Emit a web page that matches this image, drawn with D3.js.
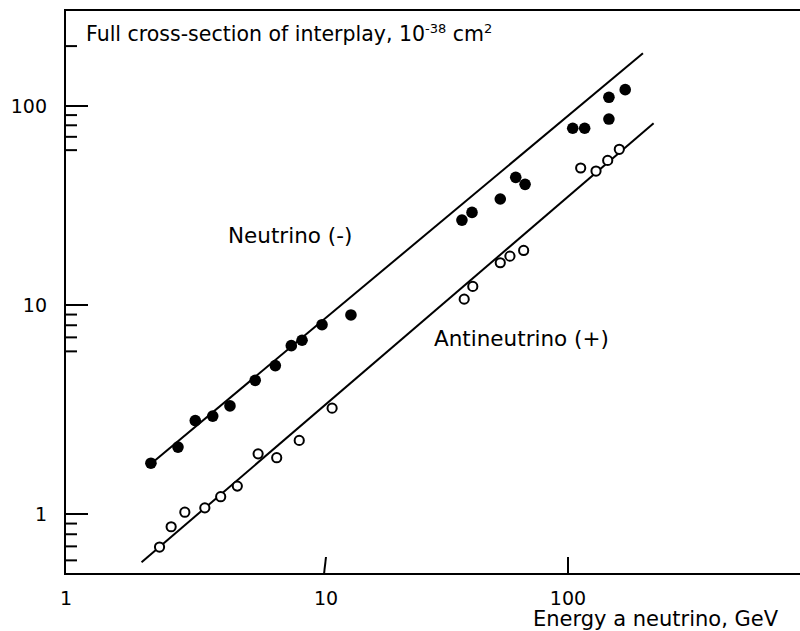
<!DOCTYPE html>
<html>
<head>
<meta charset="utf-8">
<script src="https://cdn.jsdelivr.net/npm/d3@7"></script>
<style>
  html, body { margin: 0; padding: 0; background: #fff; }
  svg { display: block; }
  text { font-family: "DejaVu Sans", Verdana, sans-serif; fill: #000; }
</style>
</head>
<body>
<svg id="chart" width="800" height="631"></svg>
<script>
// ---- data ----
const neutrinoE     = [2.14, 2.72, 3.17, 3.70, 4.31, 5.39, 6.44, 7.42, 8.16, 9.74, 12.8, 36.8, 40.5, 53.0, 61.4, 67.1, 105.6, 118.3, 149, 149, 174];
const neutrinoSigma = [1.75, 2.09, 2.80, 2.94, 3.29, 4.36, 5.13, 6.39, 6.78, 8.05, 8.96, 26.7, 29.2, 34.1, 43.8, 40.4, 77.3, 77.3, 86.0, 110.6, 120.8];

const antiE     = [2.31, 2.56, 2.89, 3.45, 3.97, 4.60, 5.53, 6.52, 7.96, 10.7, 37.6, 40.8, 53.0, 58.1, 66.2, 113.9, 131.8, 147.3, 164.5];
const antiSigma = [0.695, 0.869, 1.02, 1.07, 1.21, 1.36, 1.94, 1.86, 2.25, 3.21, 10.7, 12.4, 16.3, 17.6, 18.8, 48.8, 47.1, 53.3, 60.6];

const neutrinoFitE = [2.07, 206];
const neutrinoFitSigma = [1.68, 184];
const antiFitE = [1.97, 228];
const antiFitSigma = [0.587, 81.9];

const xTickValues = [10, 100];
const xTickLabels = ["1", "10", "100"];
const xLabelValues = [1, 10, 100];
const yMajorValues = [1, 10, 100];
const yMajorLabels = ["1", "10", "100"];
const yMinorValues = [0.6, 0.7, 0.8, 0.9, 6, 7, 8, 9, 60, 70, 80, 90, 200];

const titleMain = "Full cross-section of interplay, 10";
const titleExp1 = "-38";
const titleUnit = " cm";
const titleExp2 = "2";
const xAxisTitle = "Energy a neutrino, GeV";
const neutrinoLabel = "Neutrino (-)";
const antiLabel = "Antineutrino (+)";

// ---- layout ----
const svg = d3.select("#chart");
const mLeft = 65, mRight = 800, mTop = 10, mBottom = 574;

// hand-drawn original: decades are slightly uneven, so use piecewise log scales
const x = d3.scaleLog().domain([1, 10, 100]).range([65, 325, 567]);
const y = d3.scaleLog().domain([1, 10, 100]).range([514, 305, 106]);

const g = svg.append("g");

// frame: left axis, bottom axis, top border
g.append("line").attr("x1", mLeft).attr("x2", mLeft).attr("y1", mTop - 1).attr("y2", mBottom + 1)
  .attr("stroke", "#000").attr("stroke-width", 2);
g.append("line").attr("x1", mLeft).attr("x2", mRight).attr("y1", mBottom).attr("y2", mBottom)
  .attr("stroke", "#000").attr("stroke-width", 2);
g.append("line").attr("x1", mLeft).attr("x2", mRight).attr("y1", mTop).attr("y2", mTop)
  .attr("stroke", "#000").attr("stroke-width", 2);

// y ticks
g.selectAll(".ymaj").data(yMajorValues).join("line")
  .attr("x1", mLeft).attr("x2", mLeft + 23)
  .attr("y1", d => y(d)).attr("y2", d => y(d))
  .attr("stroke", "#000").attr("stroke-width", 2);
g.selectAll(".ymin").data(yMinorValues).join("line")
  .attr("x1", mLeft).attr("x2", mLeft + 12)
  .attr("y1", d => y(d)).attr("y2", d => y(d))
  .attr("stroke", "#000").attr("stroke-width", 2);
g.selectAll(".ylab").data(yMajorValues).join("text")
  .attr("x", 47).attr("y", d => y(d)).attr("dy", "0.36em")
  .attr("text-anchor", "end").attr("font-size", 19)
  .text((d, i) => yMajorLabels[i]);

// x ticks
g.selectAll(".xt").data(xTickValues).join("line")
  .attr("x1", d => x(d) + 1).attr("x2", d => x(d) - (d === 10 ? 1 : -1))
  .attr("y1", mBottom - 17).attr("y2", mBottom)
  .attr("stroke", "#000").attr("stroke-width", 2);
g.selectAll(".xlab").data(xLabelValues).join("text")
  .attr("x", d => x(d) + 1).attr("y", 605)
  .attr("text-anchor", "middle").attr("font-size", 19)
  .text((d, i) => xTickLabels[i]);

// axis title
g.append("text").attr("x", 533).attr("y", 626).attr("font-size", 21).text(xAxisTitle);

// chart title with superscripts
const t = g.append("text").attr("x", 86).attr("y", 41).attr("font-size", 20.5);
t.append("tspan").text(titleMain);
t.append("tspan").attr("dy", -8).attr("font-size", 13).text(titleExp1);
t.append("tspan").attr("dy", 8).text(titleUnit);
t.append("tspan").attr("dy", -8).attr("font-size", 13).text(titleExp2);

// fit lines
const line = d3.line().x(d => x(d[0])).y(d => y(d[1]));
g.append("path").datum(d3.zip(neutrinoFitE, neutrinoFitSigma))
  .attr("d", line).attr("fill", "none").attr("stroke", "#000").attr("stroke-width", 2);
g.append("path").datum(d3.zip(antiFitE, antiFitSigma))
  .attr("d", line).attr("fill", "none").attr("stroke", "#000").attr("stroke-width", 2);

// points
g.selectAll(".nu").data(d3.zip(neutrinoE, neutrinoSigma)).join("circle")
  .attr("cx", d => x(d[0])).attr("cy", d => y(d[1])).attr("r", 5.8)
  .attr("fill", "#000");
g.selectAll(".anu").data(d3.zip(antiE, antiSigma)).join("circle")
  .attr("cx", d => x(d[0])).attr("cy", d => y(d[1])).attr("r", 4.6)
  .attr("fill", "#fff").attr("stroke", "#000").attr("stroke-width", 2);

// series labels
g.append("text").attr("x", 228).attr("y", 243).attr("font-size", 21.5).text(neutrinoLabel);
g.append("text").attr("x", 434).attr("y", 346).attr("font-size", 21.5).text(antiLabel);
</script>
</body>
</html>
